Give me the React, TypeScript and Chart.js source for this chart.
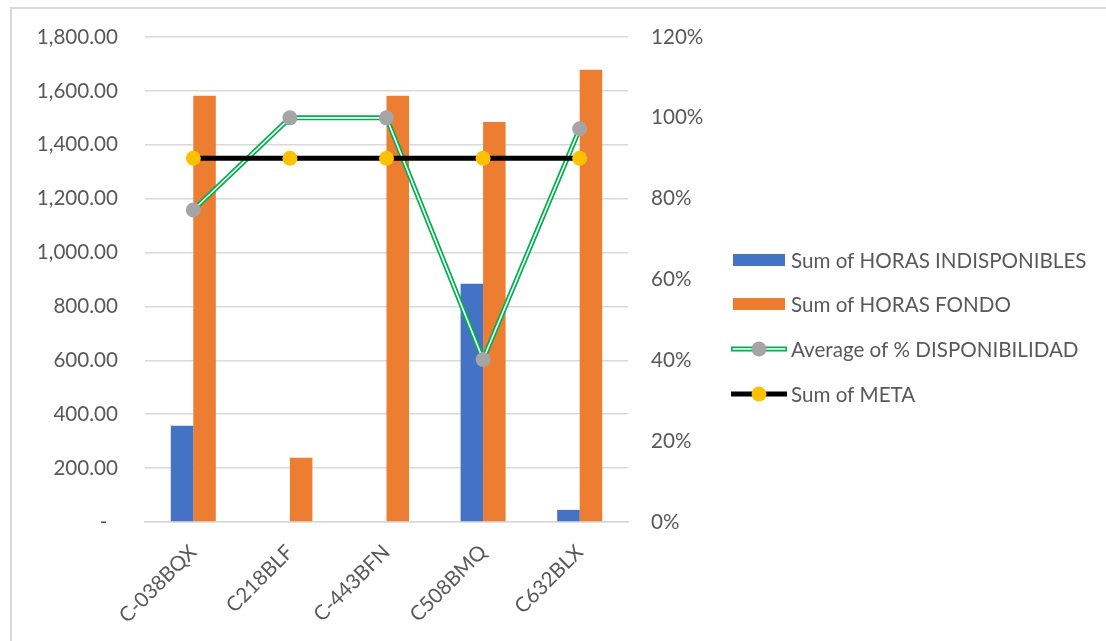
import React, { useEffect, useRef } from 'react';
import { Chart, registerables } from 'chart.js';

Chart.register(...registerables);

const categories = ['C-038BQX', 'C218BLF', 'C-443BFN', 'C508BMQ', 'C632BLX'];
const horasIndisponibles = [357, 0, 0, 884, 45];
const horasFondo = [1582, 238, 1582, 1485, 1678];
const disponibilidad = [0.772, 1.0, 1.0, 0.402, 0.973];
const meta = [0.9, 0.9, 0.9, 0.9, 0.9];

const seriesLabels = [
  'Sum of HORAS INDISPONIBLES',
  'Sum of HORAS FONDO',
  'Average of % DISPONIBILIDAD',
  'Sum of META',
];

const FONT = 'Lato';
const FS = 20.6;
const TEXT = '#595959';
const GRID = '#d9d9d9';
const BLUE = '#4472C4';
const ORANGE = '#ED7D31';
const GREEN = '#00B050';
const GRAY = '#A5A5A5';
const YELLOW = '#FFC000';

const CW = 1094;
const CH = 632;

const legendPlugin = {
  id: 'sideLegend',
  afterDraw(chart: any) {
    const ctx = chart.ctx as CanvasRenderingContext2D;
    const x0 = 721;
    const textX = 779;
    const rows = [251, 295, 340, 385];
    ctx.save();
    ctx.font = `${FS}px ${FONT}`;
    ctx.textBaseline = 'middle';
    ctx.textAlign = 'left';
    ctx.fillStyle = BLUE;
    ctx.fillRect(x0, rows[0] - 6, 52, 12);
    ctx.fillStyle = ORANGE;
    ctx.fillRect(x0, rows[1] - 6, 52, 12);
    ctx.lineCap = 'butt';
    ctx.strokeStyle = GREEN;
    ctx.lineWidth = 5;
    ctx.beginPath();
    ctx.moveTo(x0 - 2, rows[2]);
    ctx.lineTo(x0 + 54, rows[2]);
    ctx.stroke();
    ctx.strokeStyle = '#ffffff';
    ctx.lineWidth = 1.6;
    ctx.beginPath();
    ctx.moveTo(x0 - 0.5, rows[2]);
    ctx.lineTo(x0 + 52.5, rows[2]);
    ctx.stroke();
    ctx.fillStyle = GRAY;
    ctx.beginPath();
    ctx.arc(x0 + 26, rows[2], 7.5, 0, Math.PI * 2);
    ctx.fill();
    ctx.strokeStyle = '#000000';
    ctx.lineWidth = 5;
    ctx.beginPath();
    ctx.moveTo(x0 - 2, rows[3]);
    ctx.lineTo(x0 + 54, rows[3]);
    ctx.stroke();
    ctx.fillStyle = YELLOW;
    ctx.beginPath();
    ctx.arc(x0 + 26, rows[3], 7.5, 0, Math.PI * 2);
    ctx.fill();
    ctx.fillStyle = TEXT;
    seriesLabels.forEach((l, i) => ctx.fillText(l, textX, rows[i] + 1));
    ctx.restore();
  },
};

export default function App() {
  const ref = useRef<HTMLCanvasElement>(null);
  useEffect(() => {
    if (!ref.current) return;
    const chart = new Chart(ref.current, {
      type: 'bar',
      data: {
        labels: categories,
        datasets: [
          {
            type: 'line',
            label: seriesLabels[3],
            data: meta,
            yAxisID: 'y1',
            borderColor: '#000000',
            borderWidth: 5,
            pointRadius: 7.5,
            pointBackgroundColor: YELLOW,
            pointBorderWidth: 0,
            pointBorderColor: YELLOW,
            tension: 0,
            order: 0,
          },
          {
            type: 'line',
            label: seriesLabels[2],
            data: disponibilidad,
            yAxisID: 'y1',
            showLine: false,
            pointRadius: 7.5,
            pointBackgroundColor: GRAY,
            pointBorderWidth: 0,
            pointBorderColor: GRAY,
            order: 1,
          },
          {
            type: 'line',
            label: seriesLabels[2] + ' inner',
            data: disponibilidad,
            yAxisID: 'y1',
            borderColor: '#ffffff',
            borderWidth: 1.6,
            pointRadius: 0,
            tension: 0,
            order: 2,
          },
          {
            type: 'line',
            label: seriesLabels[2] + ' outer',
            data: disponibilidad,
            yAxisID: 'y1',
            borderColor: GREEN,
            borderWidth: 5,
            pointRadius: 0,
            tension: 0,
            order: 3,
          },
          {
            type: 'bar',
            label: seriesLabels[0],
            data: horasIndisponibles,
            yAxisID: 'y',
            backgroundColor: BLUE,
            categoryPercentage: 0.466,
            barPercentage: 1,
            order: 10,
          },
          {
            type: 'bar',
            label: seriesLabels[1],
            data: horasFondo,
            yAxisID: 'y',
            backgroundColor: ORANGE,
            categoryPercentage: 0.466,
            barPercentage: 1,
            order: 11,
          },
        ],
      } as any,
      options: {
        responsive: false,
        animation: false,
        layout: { padding: { left: 0, right: CW - 721, top: 28, bottom: 0 } },
        plugins: {
          legend: { display: false },
          tooltip: { enabled: false },
        },
        scales: {
          x: {
            grid: { display: false, drawTicks: false },
            border: { display: true, color: GRID, width: 1.5 },
            ticks: {
              color: TEXT,
              font: { family: FONT, size: FS },
              minRotation: 45,
              maxRotation: 45,
              padding: 18,
              labelOffset: 0,
            },
            afterFit: (s: any) => {
              s.height = 119;
            },
          },
          y: {
            position: 'left',
            min: 0,
            max: 1800,
            grid: {
              color: GRID,
              lineWidth: 1.5,
              drawTicks: true,
              tickLength: 27,
              tickColor: 'rgba(0,0,0,0)',
            },
            border: { display: false },
            ticks: {
              stepSize: 200,
              color: TEXT,
              font: { family: FONT, size: FS },
              padding: 0,
              callback: (v: any) =>
                v === 0
                  ? '-\u00a0\u00a0'
                  : Number(v).toLocaleString('en-US', {
                      minimumFractionDigits: 2,
                      maximumFractionDigits: 2,
                    }),
            },
            afterFit: (s: any) => {
              s.width = 133;
            },
          },
          y1: {
            position: 'right',
            min: 0,
            max: 1.2,
            grid: {
              drawOnChartArea: false,
              drawTicks: true,
              tickLength: 23,
              tickColor: 'rgba(0,0,0,0)',
            },
            border: { display: false },
            ticks: {
              stepSize: 0.2,
              color: TEXT,
              font: { family: FONT, size: FS },
              padding: 0,
              callback: (v: any) => Math.round(Number(v) * 100) + '%',
            },
            afterFit: (s: any) => {
              s.width = 105;
            },
          },
        },
      } as any,
      plugins: [legendPlugin],
    });
    return () => chart.destroy();
  }, []);

  return (
    <div
      style={{
        position: 'absolute',
        left: 10,
        top: 7,
        width: 1096,
        height: 634,
        borderTop: `2px solid ${GRID}`,
        borderLeft: `2px solid ${GRID}`,
        background: '#fff',
        overflow: 'hidden',
      }}
    >
      <canvas ref={ref} width={CW} height={CH} style={{ display: 'block' }} />
    </div>
  );
}
